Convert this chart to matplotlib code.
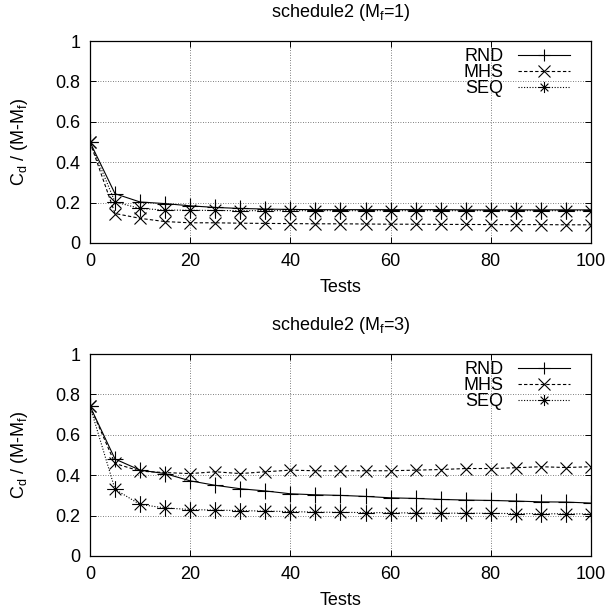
import matplotlib
matplotlib.use('Agg')
import matplotlib.pyplot as plt
from matplotlib.path import Path

plt.rcParams['font.family'] = ['Liberation Sans', 'DejaVu Sans']
plt.rcParams['font.size'] = 13
plt.rcParams['mathtext.fontset'] = 'custom'
plt.rcParams['mathtext.rm'] = 'Liberation Sans'
plt.rcParams['mathtext.it'] = 'Liberation Sans:italic'

tests = [0, 5, 10, 15, 20, 25, 30, 35, 40, 45, 50, 55, 60, 65, 70, 75, 80, 85, 90, 95, 100]

# schedule2, Mf = 1
rnd_1 = [0.5, 0.244, 0.203, 0.195, 0.184, 0.176, 0.171, 0.168, 0.166, 0.165, 0.165,
         0.165, 0.165, 0.165, 0.165, 0.164, 0.164, 0.164, 0.164, 0.164, 0.164]
mhs_1 = [0.5, 0.146, 0.122, 0.106, 0.100, 0.100, 0.098, 0.097, 0.096, 0.095, 0.095,
         0.094, 0.093, 0.093, 0.092, 0.092, 0.091, 0.091, 0.091, 0.090, 0.090]
seq_1 = [0.5, 0.203, 0.171, 0.163, 0.162, 0.161, 0.160, 0.160, 0.160, 0.160, 0.160,
         0.160, 0.160, 0.160, 0.160, 0.160, 0.160, 0.160, 0.160, 0.160, 0.160]

# schedule2, Mf = 3
rnd_3 = [0.742, 0.48, 0.425, 0.408, 0.372, 0.35, 0.333, 0.322, 0.308, 0.303, 0.30,
         0.295, 0.288, 0.285, 0.28, 0.277, 0.275, 0.272, 0.268, 0.267, 0.262]
mhs_3 = [0.742, 0.458, 0.42, 0.413, 0.408, 0.417, 0.408, 0.417, 0.425, 0.422, 0.422,
         0.422, 0.422, 0.425, 0.428, 0.433, 0.433, 0.437, 0.442, 0.438, 0.442]
seq_3 = [0.742, 0.33, 0.255, 0.238, 0.23, 0.227, 0.225, 0.222, 0.22, 0.217, 0.216,
         0.215, 0.214, 0.213, 0.212, 0.212, 0.211, 0.210, 0.209, 0.209, 0.208]

titles = ['schedule2 (M$_\\mathrm{f}$=1)', 'schedule2 (M$_\\mathrm{f}$=3)']
labels = ['RND', 'MHS', 'SEQ']

# gnuplot style asterisk: plus and cross together
star = Path([(-1, 0), (1, 0), (0, -1), (0, 1),
             (-0.7, -0.7), (0.7, 0.7), (-0.7, 0.7), (0.7, -0.7)],
            [Path.MOVETO, Path.LINETO] * 4)

fig = plt.figure(figsize=(6.10, 6.13), dpi=100)
ax1 = fig.add_axes([0.1475, 0.6036, 0.8213, 0.3295])
ax2 = fig.add_axes([0.1475, 0.093, 0.8213, 0.3295])

for ax, title, (rnd, mhs, seq) in zip([ax1, ax2], titles,
                                      [(rnd_1, mhs_1, seq_1), (rnd_3, mhs_3, seq_3)]):
    ax.plot(tests, rnd, color='black', lw=0.8, ls='-', marker='+', ms=11, mew=0.8, label=labels[0])
    ax.plot(tests, mhs, color='black', lw=0.8, ls=(0, (3, 2)), marker='x', ms=9, mew=0.8, label=labels[1])
    ax.plot(tests, seq, color='black', lw=0.8, ls=(0, (1, 1.5)), marker=star, ms=12, mew=0.8, label=labels[2])
    ax.set_xlim(0, 100)
    ax.set_ylim(0, 1)
    ax.set_xticks([0, 20, 40, 60, 80, 100])
    ax.set_yticks([0, 0.2, 0.4, 0.6, 0.8, 1])
    ax.set_yticklabels(['0', '0.2', '0.4', '0.6', '0.8', '1'])
    ax.tick_params(direction='in', top=True, right=True, length=4, width=0.7, pad=7)
    ax.grid(True, color='#555555', ls=(0, (1, 2)), lw=0.6)
    for s in ax.spines.values():
        s.set_linewidth(0.9)
    ax.set_title(title, fontsize=13, pad=17)
    ax.set_xlabel('Tests', labelpad=7)
    ax.set_ylabel('C$_\\mathrm{d}$ / (M-M$_\\mathrm{f}$)', labelpad=18)
    leg = ax.legend(loc='upper right', bbox_to_anchor=(1 - 21 / 501, 1 - 7 / 202),
                    frameon=False, markerfirst=False, handlelength=2.9,
                    labelspacing=-0.05, handletextpad=0.8, borderaxespad=0, borderpad=0)
    for h in leg.legend_handles:
        h.set_markersize(8)

fig.savefig('out.png', dpi=100)
